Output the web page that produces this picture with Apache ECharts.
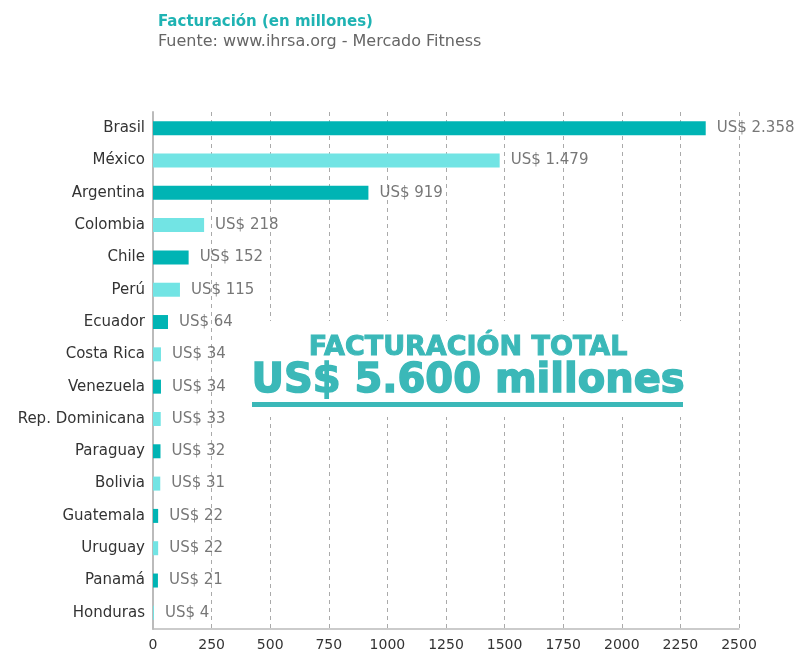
<!DOCTYPE html>
<html>
<head>
<meta charset="utf-8">
<script src="https://cdn.jsdelivr.net/npm/echarts@6/dist/echarts.min.js"></script>
<style>
  html, body { margin: 0; padding: 0; background: #fff; }
  #chart { width: 797px; height: 653px; }
</style>
</head>
<body>
<div id="chart"></div>
<script>
const paises = ['Brasil', 'México', 'Argentina', 'Colombia', 'Chile', 'Perú', 'Ecuador', 'Costa Rica',
  'Venezuela', 'Rep. Dominicana', 'Paraguay', 'Bolivia', 'Guatemala', 'Uruguay', 'Panamá', 'Honduras'];
const facturacion = [2358, 1479, 919, 218, 152, 115, 64, 34, 34, 33, 32, 31, 22, 22, 21, 4];
const etiquetas = ['US$ 2.358', 'US$ 1.479', 'US$ 919', 'US$ 218', 'US$ 152', 'US$ 115', 'US$ 64', 'US$ 34',
  'US$ 34', 'US$ 33', 'US$ 32', 'US$ 31', 'US$ 22', 'US$ 22', 'US$ 21', 'US$ 4'];

const oscuro = '#00B4B4';
const claro = '#72E4E4';
const fuente = 'DejaVu Sans';
const turquesa = '#3BB8B8';

const chart = echarts.init(document.getElementById('chart'));

chart.setOption({
  animation: false,
  title: {
    text: 'Facturación (en millones)',
    subtext: 'Fuente: www.ihrsa.org - Mercado Fitness',
    left: 153,
    top: 10,
    itemGap: 4,
    textStyle: { color: '#1FB3B3', fontSize: 15, fontWeight: 'bold', fontFamily: fuente },
    subtextStyle: { color: '#666', fontSize: 16, fontFamily: fuente }
  },
  grid: { left: 153, right: 58, top: 112, bottom: 24 },
  xAxis: {
    type: 'value',
    min: 0,
    max: 2500,
    interval: 250,
    axisLine: { show: true, lineStyle: { color: '#bbb', width: 1.5 } },
    axisTick: { show: false },
    axisLabel: {
      color: '#333', fontSize: 14, fontFamily: fuente, margin: 9,
      formatter: v => String(v)
    },
    splitLine: { show: true, lineStyle: { color: '#aaa', type: [4, 4] } }
  },
  yAxis: {
    type: 'category',
    data: paises,
    inverse: true,
    axisLine: { show: true, lineStyle: { color: '#bbb', width: 2 } },
    axisTick: { show: false },
    axisLabel: { color: '#333', fontSize: 15, fontFamily: fuente, margin: 8 }
  },
  series: [{
    type: 'bar',
    barWidth: 14,
    data: facturacion.map((v, i) => ({
      value: v,
      itemStyle: { color: i % 2 === 0 ? oscuro : claro }
    })),
    label: {
      show: true,
      position: 'right',
      distance: 11,
      color: '#777',
      fontSize: 15,
      fontFamily: fuente,
      formatter: p => etiquetas[p.dataIndex]
    }
  }],
  graphic: [
    {
      // recuadro blanco que tapa las líneas de la grilla detrás del total
      type: 'rect',
      z: 100,
      shape: { x: 245, y: 321, width: 446, height: 96 },
      style: { fill: '#fff' }
    },
    {
      type: 'text',
      z: 101,
      x: 468,
      y: 348,
      style: { text: 'FACTURACIÓN TOTAL', align: 'center', verticalAlign: 'middle',
        fill: turquesa, stroke: turquesa, lineWidth: 1,
        font: 'bold 27px "DejaVu Sans"' }
    },
    {
      type: 'text',
      z: 101,
      x: 468,
      y: 382,
      style: { text: 'US$ 5.600 millones', align: 'center', verticalAlign: 'middle',
        fill: turquesa, stroke: turquesa, lineWidth: 1.5,
        font: 'bold 40px "DejaVu Sans"' }
    },
    {
      type: 'rect',
      z: 101,
      shape: { x: 252, y: 402, width: 431, height: 5 },
      style: { fill: turquesa }
    }
  ]
});

window.addEventListener('resize', () => chart.resize());
</script>
</body>
</html>
